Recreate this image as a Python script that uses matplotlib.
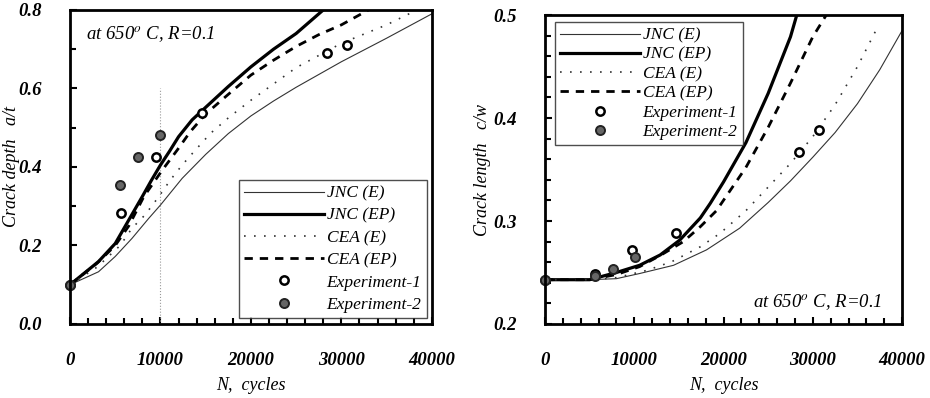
import numpy as np
import matplotlib
matplotlib.use("Agg")
import matplotlib.pyplot as plt
from matplotlib.ticker import MultipleLocator

plt.rcParams['font.family'] = ['Liberation Serif', 'DejaVu Serif']
plt.rcParams['mathtext.fontset'] = 'stix'

# ---- left panel: crack depth a/t ----
n_jnc_e = [0, 3150, 5000, 6850, 8700, 10000, 12400, 15000, 17500, 20000, 22500, 25000, 30000, 35000, 40000]
a_jnc_e = [0.10, 0.133, 0.172, 0.218, 0.269, 0.303, 0.371, 0.432, 0.485, 0.53, 0.568, 0.603, 0.668, 0.728, 0.79]
n_jnc_ep = [0, 1500, 3150, 5000, 6000, 7000, 8000, 9000, 10000, 11000, 12000, 13500, 15000,
            17500, 20000, 22500, 25000, 27500, 28000]
a_jnc_ep = [0.10, 0.128, 0.159, 0.205, 0.245, 0.285, 0.325, 0.366, 0.405, 0.44, 0.477, 0.52, 0.552,
            0.605, 0.655, 0.70, 0.74, 0.79, 0.80]
n_cea_e = [0, 3000, 5550, 6850, 8300, 9800, 11100, 12400, 13700, 15550, 17500, 20000, 25000,
           30000, 35000, 38000]
a_cea_e = [0.10, 0.145, 0.20, 0.244, 0.278, 0.324, 0.367, 0.405, 0.439, 0.486, 0.525, 0.57, 0.653,
           0.715, 0.762, 0.796]
n_cea_ep = [0, 3000, 5000, 6500, 8150, 10200, 11850, 13300, 15000, 17500, 20000, 22500, 25000,
            27500, 30000, 33000]
a_cea_ep = [0.10, 0.155, 0.20, 0.25, 0.324, 0.392, 0.443, 0.49, 0.535, 0.585, 0.634, 0.672, 0.707,
            0.737, 0.762, 0.80]
n_exp1_a = [0, 5600, 9500, 14600, 28400, 30600]
a_exp1 = [0.10, 0.282, 0.425, 0.538, 0.69, 0.71]
n_exp2_a = [0, 5550, 7500, 10000]
a_exp2 = [0.10, 0.354, 0.425, 0.482]

# ---- right panel: crack length c/w ----
n_jnc_e_c = [0, 5000, 8000, 10600, 14400, 18100, 21800, 25000, 27500, 30000, 32500, 35000, 37500, 40000]
c_jnc_e = [0.243, 0.243, 0.244, 0.249, 0.257, 0.272, 0.293, 0.318, 0.339, 0.362, 0.386, 0.414, 0.447, 0.485]
n_jnc_ep_c = [0, 5000, 8000, 10600, 12900, 15100, 17400, 18500, 20000, 22500, 25000, 27500, 28200]
c_jnc_ep = [0.243, 0.243, 0.25, 0.257, 0.267, 0.2815, 0.303, 0.317, 0.338, 0.376, 0.424, 0.479, 0.50]
n_cea_e_c = [0, 5000, 8000, 11400, 14200, 17400, 19600, 22500, 25000, 27500, 30000, 32500, 35000, 37000]
c_cea_e = [0.243, 0.243, 0.245, 0.252, 0.2605, 0.275, 0.288, 0.31, 0.333, 0.356, 0.382, 0.413, 0.45, 0.484]
n_cea_ep_c = [0, 5000, 8000, 10600, 13000, 15500, 17400, 19200, 22500, 25000, 27500, 30000, 31500]
c_cea_ep = [0.243, 0.243, 0.248, 0.2557, 0.267, 0.28, 0.2945, 0.31, 0.352, 0.391, 0.434, 0.479, 0.50]
n_exp1_c = [0, 5600, 9700, 14700, 28500, 30700]
c_exp1 = [0.243, 0.249, 0.272, 0.288, 0.367, 0.388]
n_exp2_c = [0, 5600, 7650, 10070]
c_exp2 = [0.243, 0.2466, 0.253, 0.265]

lab_font = dict(fontsize=13, style='italic')


def style_axes(ax, ymin, ymax, ymajor, yminor):
    ax.set_xlim(0, 40000)
    ax.set_ylim(ymin, ymax)
    ax.xaxis.set_major_locator(MultipleLocator(10000))
    ax.xaxis.set_minor_locator(MultipleLocator(2000))
    ax.yaxis.set_major_locator(MultipleLocator(ymajor))
    ax.yaxis.set_minor_locator(MultipleLocator(yminor))
    ax.yaxis.set_major_formatter(plt.FormatStrFormatter('%.1f'))
    ax.tick_params(which='both', direction='in', top=False, right=False, pad=20)
    ax.tick_params(which='major', length=5, width=1.5)
    ax.tick_params(which='minor', length=4, width=1.5)
    for sp in ax.spines.values():
        sp.set_linewidth(2)
    for lb in ax.get_xticklabels() + ax.get_yticklabels():
        lb.set_fontstyle('italic')
        lb.set_fontweight('bold')
        lb.set_fontsize(13.5)
    ax.set_xlabel('N,  cycles', labelpad=6, **lab_font)


def draw(ax, d):
    ax.plot(d[0], d[1], color='#333333', lw=0.8, label='JNC (E)')
    ax.plot(d[2], d[3], color='black', lw=2.3, label='JNC (EP)')
    ax.plot(d[4], d[5], color='#333333', lw=1.2, ls=(0, (1, 5)), label='CEA (E)')
    ax.plot(d[6], d[7], color='black', lw=2.0, ls=(0, (3, 2.5)), label='CEA (EP)')
    ax.plot(d[8], d[9], 'o', ms=6, mfc='white', mec='black', mew=1.8,
            ls='none', label='Experiment-1', clip_on=False)
    ax.plot(d[10], d[11], 'o', ms=6.5, mfc='#666666', mec='#222222', mew=1.4,
            ls='none', label='Experiment-2', clip_on=False)


def make_legend(ax, loc, anchor, spacing):
    leg = ax.legend(loc=loc, bbox_to_anchor=anchor, frameon=True,
                    fancybox=False, edgecolor='#222222', handlelength=4.6,
                    handletextpad=0.15, borderpad=0.3, labelspacing=spacing,
                    borderaxespad=0.0,
                    prop={'family': 'Liberation Serif', 'style': 'italic', 'size': 12.5})
    leg.get_frame().set_linewidth(1.0)
    return leg


fig = plt.figure(figsize=(9.3, 3.98), dpi=100)
ax1 = fig.add_axes([0.0753, 0.186, 0.389, 0.789])
ax2 = fig.add_axes([0.586, 0.186, 0.384, 0.776])

ax1.plot([10000, 10000], [0, 0.6], color='#999999', lw=0.8, ls=':')
draw(ax1, [n_jnc_e, a_jnc_e, n_jnc_ep, a_jnc_ep, n_cea_e, a_cea_e, n_cea_ep, a_cea_ep,
           n_exp1_a, a_exp1, n_exp2_a, a_exp2])
style_axes(ax1, 0, 0.8, 0.2, 0.1)
ax1.set_ylabel('Crack depth   a/t', **lab_font)
ax1.yaxis.set_label_coords(-0.138, 0.5)
ax1.text(0.043, 0.92, 'at 650$^o$ C, R=0.1', transform=ax1.transAxes,
         fontsize=13.5, style='italic', va='center')
make_legend(ax1, 'lower right', (0.986, 0.019), 0.35)

draw(ax2, [n_jnc_e_c, c_jnc_e, n_jnc_ep_c, c_jnc_ep, n_cea_e_c, c_cea_e, n_cea_ep_c, c_cea_ep,
           n_exp1_c, c_exp1, n_exp2_c, c_exp2])
style_axes(ax2, 0.2, 0.5, 0.1, 0.02)
ax2.set_ylabel('Crack length   c/w', **lab_font)
ax2.yaxis.set_label_coords(-0.15, 0.5)
ax2.text(0.945, 0.07, 'at 650$^o$ C, R=0.1', transform=ax2.transAxes,
         fontsize=13.5, style='italic', ha='right', va='center')
make_legend(ax2, 'upper left', (0.028, 0.977), 0.18)

fig.savefig('out.png', dpi=100)
